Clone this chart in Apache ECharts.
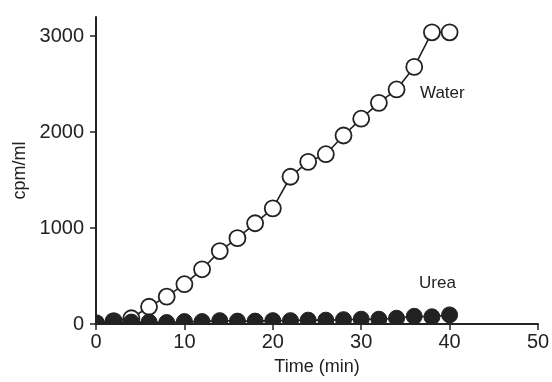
<!DOCTYPE html>
<html>
<head>
<meta charset="utf-8">
<script src="https://cdn.jsdelivr.net/npm/echarts@6/dist/echarts.min.js"></script>
<style>
  html, body { margin: 0; padding: 0; background: #fff; }
  #chart { width: 552px; height: 382px; }
</style>
</head>
<body>
<div id="chart"></div>
<script>
// time points (min)
const times = [0, 2, 4, 6, 8, 10, 12, 14, 16, 18, 20, 22, 24, 26, 28, 30, 32, 34, 36, 38, 40];
// cpm/ml
const water = [10, 30, 60, 180, 285, 415, 570, 760, 895, 1050, 1205, 1535, 1690, 1770, 1965, 2140, 2305, 2445, 2680, 3040, 3040];
const urea = [5, 20, 20, 20, 15, 25, 25, 35, 30, 30, 35, 35, 40, 40, 45, 50, 50, 60, 80, 75, 95];

const ink = "#222";
const font = "Liberation Sans";

const chart = echarts.init(document.getElementById("chart"));

const option = {
  animation: false,
  backgroundColor: "#fff",
  grid: { left: 96, right: 14, top: 17, bottom: 58, containLabel: false, outerBoundsMode: "none" },
  xAxis: {
    type: "value",
    min: 0,
    max: 50,
    interval: 10,
    z: 10,
    name: "Time (min)",
    nameLocation: "middle",
    nameGap: 34,
    nameTextStyle: { color: ink, fontSize: 18, fontFamily: font },
    axisLine: { onZero: false, lineStyle: { color: ink, width: 2 } },
    axisTick: { inside: false, length: 6, lineStyle: { color: ink, width: 1.5 } },
    axisLabel: { color: ink, fontSize: 20, fontFamily: font, margin: 8 },
    splitLine: { show: false },
  },
  yAxis: {
    type: "value",
    min: 0,
    max: 3200,
    interval: 1000,
    z: 10,
    name: "cpm/ml",
    nameLocation: "middle",
    nameGap: 61,
    nameTextStyle: { color: ink, fontSize: 18, fontFamily: font },
    axisLine: { show: true, lineStyle: { color: ink, width: 2 } },
    axisTick: { show: true, length: 6, lineStyle: { color: ink, width: 1.5 } },
    axisLabel: { color: ink, fontSize: 20, fontFamily: font, margin: 12, showMaxLabel: false, formatter: (v) => String(v) },
    splitLine: { show: false },
  },
  graphic: [
    // mask marks that spill outside the plot area
    { type: "rect", z: 5, shape: { x: 0, y: 325, width: 552, height: 57 }, style: { fill: "#fff" } },
    { type: "rect", z: 5, shape: { x: 0, y: 0, width: 95, height: 382 }, style: { fill: "#fff" } },
    { type: "text", z: 11, left: 420, top: 85, style: { text: "Water", fill: ink, fontSize: 17, fontFamily: font } },
    { type: "text", z: 11, left: 419, top: 275, style: { text: "Urea", fill: ink, fontSize: 17, fontFamily: font } },
  ],
  series: [
    {
      name: "Water",
      type: "line",
      z: 2,
      data: times.map((t, i) => [t, water[i]]),
      symbol: "circle",
      symbolSize: 16,
      showAllSymbol: true,
      lineStyle: { color: ink, width: 1.6 },
      itemStyle: { color: "#fff", borderColor: ink, borderWidth: 1.8 },
    },
    {
      name: "Urea",
      type: "line",
      z: 3,
      data: times.map((t, i) => [t, urea[i]]),
      symbol: "circle",
      symbolSize: 16,
      showAllSymbol: true,
      lineStyle: { color: ink, width: 1.6 },
      itemStyle: { color: ink, borderColor: ink, borderWidth: 1 },
    },
  ],
};

chart.setOption(option);
</script>
</body>
</html>
